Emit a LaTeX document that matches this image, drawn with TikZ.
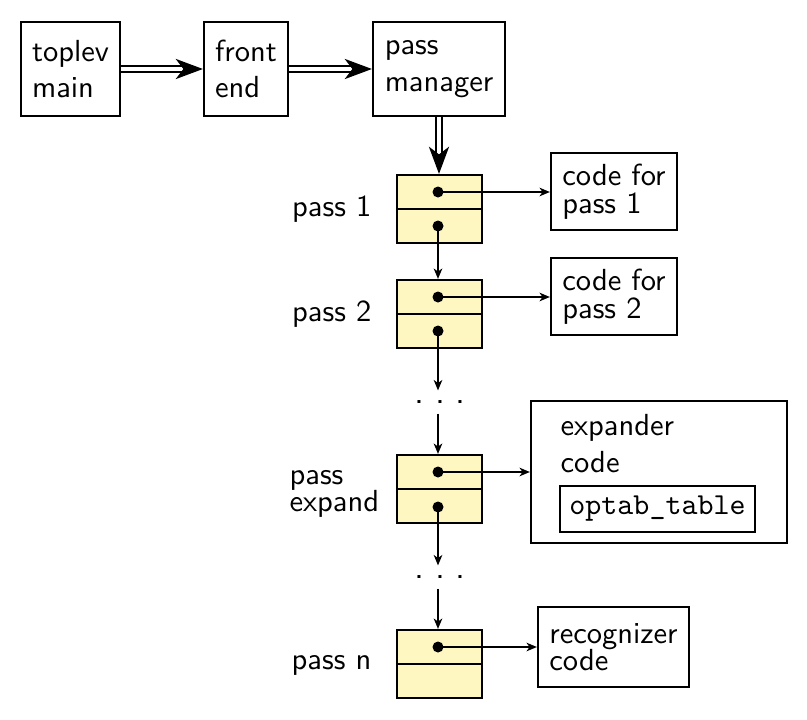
\documentclass[tikz,border=0pt]{standalone}
\usetikzlibrary{arrows.meta,calc}
\definecolor{passyellow}{RGB}{255,247,194}
\def\upx{0.328pt}
\begin{document}
\begin{tikzpicture}[x=0.328pt,y=-0.328pt, font=\sffamily,
  box/.style={draw, line width=0.72pt, align=left, inner sep=0pt},
  cell/.style={draw, line width=0.72pt, fill=passyellow, minimum width=85*\upx, minimum height=68*\upx, inner sep=0pt},
  lbl/.style={inner sep=0pt},
  ell/.style={inner sep=0pt, minimum height=22*\upx, font=\sffamily\large},
  arr/.style={line width=0.65pt, -{Stealth[length=3.4pt,width=2.8pt,inset=1pt]}},
  dbl/.style={double, line width=0.75pt, double distance=1.15pt, -{Stealth[length=8.9pt,width=6.6pt,inset=2.5pt]}}]
\useasboundingbox (0,0) rectangle (807,720);

% top row
\node[box, minimum width=99*\upx, minimum height=94*\upx] (top) at (70.5,69) {toplev\\main};
\node[box, minimum width=84*\upx, minimum height=94*\upx] (fe) at (246,69) {front\\end};
\node[box, minimum width=132*\upx, minimum height=94*\upx] (pm) at (439,69) {pass\\manager};

% pass cells
\node[cell] (p1) at (439.5,209) {};
\node[cell] (p2) at (439.5,314) {};
\node[cell] (pe) at (439.5,489) {};
\node[cell] (pn) at (439.5,664) {};
\foreach \n in {p1,p2,pe,pn} \draw[line width=0.72pt] (\n.west) -- (\n.east);

\coordinate (p1a) at (438,192); \coordinate (p1b) at (438,226);
\coordinate (p2a) at (438,297); \coordinate (p2b) at (438,331);
\coordinate (pea) at (438,472); \coordinate (peb) at (438,507);
\coordinate (pna) at (438,647);

% labels
\node[lbl, anchor=base east] (l1) at (372,216) {pass 1};
\node[lbl, anchor=base east] (l2) at (372,321) {pass 2};
\node[lbl, anchor=west, align=left] (le) at (289,494) {pass\\[-3pt]expand};
\node[lbl, anchor=base east] (ln) at (372,669) {pass n};

% ellipses
\node[ell] (d1) at (440,402) {.\hspace{3.5pt}.\hspace{3.5pt}.};
\node[ell] (d2) at (440,577) {.\hspace{3.5pt}.\hspace{3.5pt}.};

% code boxes
\node[box, minimum width=126*\upx, minimum height=77*\upx] (c1) at (614,191.5) {code for\\[-3pt]pass 1};
\node[box, minimum width=126*\upx, minimum height=77*\upx] (c2) at (614,296.5) {code for\\[-3pt]pass 2};
\node[box, minimum width=256*\upx, minimum height=142*\upx] (ex) at (659,472) {};
\node[lbl, anchor=base west] (ext1) at (560,435) {expander};
\node[lbl, anchor=base west] (ext2) at (560,472) {code};
\node[box, minimum width=195*\upx, minimum height=46*\upx] (opt) at (657.5,509) {\ttfamily optab\_table};
\node[box, minimum width=151*\upx, minimum height=80*\upx] (rc) at (613.5,647) {recognizer\\[-3pt]code};

% connectors
\draw[dbl] (top.east) -- (fe.west);
\draw[dbl] (fe.east) -- (pm.west);
\draw[dbl] (pm.south) -- (pm.south |- p1.north);

\draw[arr] (p1a) -- (p1a -| c1.west);
\draw[arr] (p1b) -- (p1b |- p2.north);
\draw[arr] (p2a) -- (p2a -| c2.west);
\draw[arr] (p2b) -- (p2b |- d1.north);
\draw[arr] (d1.south -| p2b) -- (p2b |- pe.north);
\draw[arr] (pea) -- (pea -| ex.west);
\draw[arr] (peb) -- (peb |- d2.north);
\draw[arr] (d2.south -| peb) -- (peb |- pn.north);
\draw[arr] (pna) -- (pna -| rc.west);

\foreach \c in {p1a,p1b,p2a,p2b,pea,peb,pna} \fill (\c) circle (5.5);
\end{tikzpicture}
\end{document}
